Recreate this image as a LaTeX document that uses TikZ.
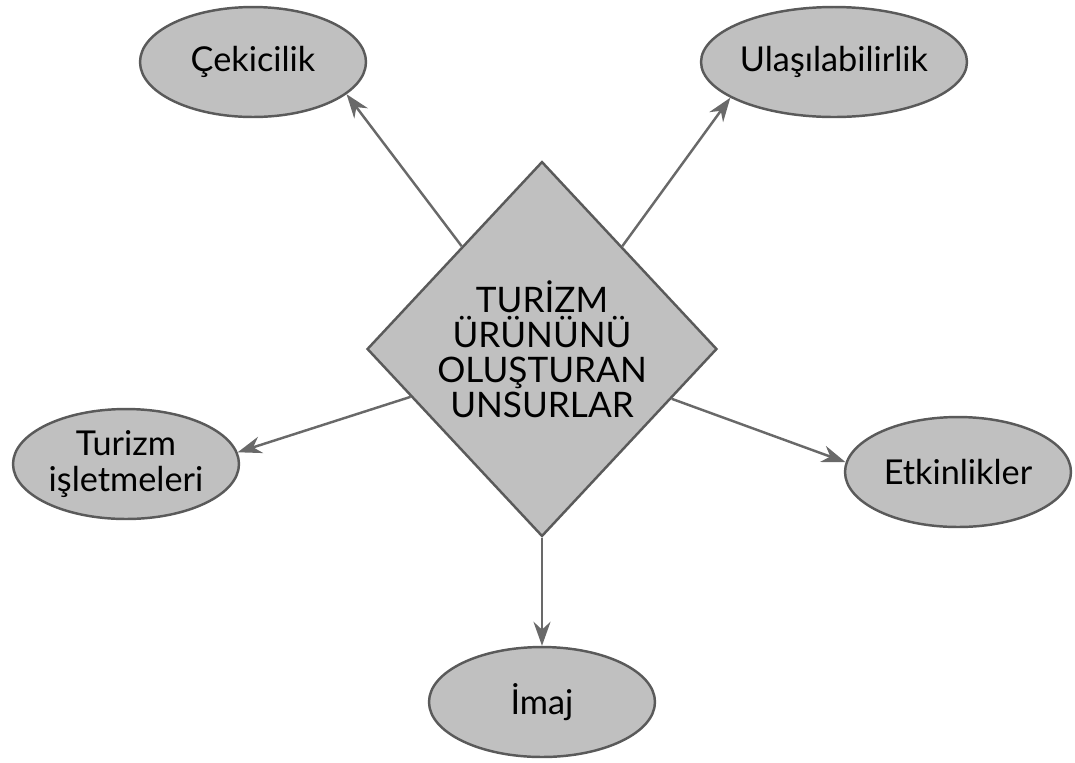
\documentclass[tikz,border=0pt]{standalone}
\usepackage{fontspec}
\setmainfont{Lato}
\usetikzlibrary{shapes.geometric, arrows.meta}
\definecolor{fillgray}{RGB}{192,192,192}
\definecolor{linegray}{RGB}{90,90,90}
\definecolor{arrowgray}{RGB}{105,105,105}

\begin{document}
\begin{tikzpicture}[x=0.02cm, y=-0.02cm,
    unsur/.style = {ellipse, draw=linegray, line width=1.4pt, fill=fillgray,
        minimum width=4.52cm, minimum height=2.2cm, inner sep=0pt, align=center,
        font=\fontsize{19.5}{20}\selectfont},
    urun/.style = {diamond, draw=linegray, line width=1.4pt, fill=fillgray,
        minimum width=7cm, minimum height=7.5cm, inner sep=0pt, align=center,
        font=\fontsize{20}{20}\selectfont},
    ok/.style = {-{Stealth[length=4.8mm, width=3.4mm]}, draw=arrowgray, line width=1.4pt}]
    \useasboundingbox (0,0) rectangle (1075,762);
    \node[urun] (urun) at (542,349) {TURİZM\\ÜRÜNÜNÜ\\OLUŞTURAN\\UNSURLAR};
    \node[unsur] (cek) at (253,62) {Çekicilik};
    \node[unsur] (ulas) at (834,62) {Ulaşılabilirlik};
    \node[unsur] (isl) at (126,464) {Turizm\\işletmeleri};
    \node[unsur] (etk) at (958,472) {Etkinlikler};
    \node[unsur] (imaj) at (542,702) {İmaj};
    \draw[ok] (urun.128) -- (cek.-19);
    \draw[ok] (urun.52) -- (ulas.199);
    \draw[ok] (urun.200) -- (isl.6);
    \draw[ok] (urun.-21) -- (etk.175);
    \draw[ok] (urun.south) -- (imaj.north);
\end{tikzpicture}
\end{document}
